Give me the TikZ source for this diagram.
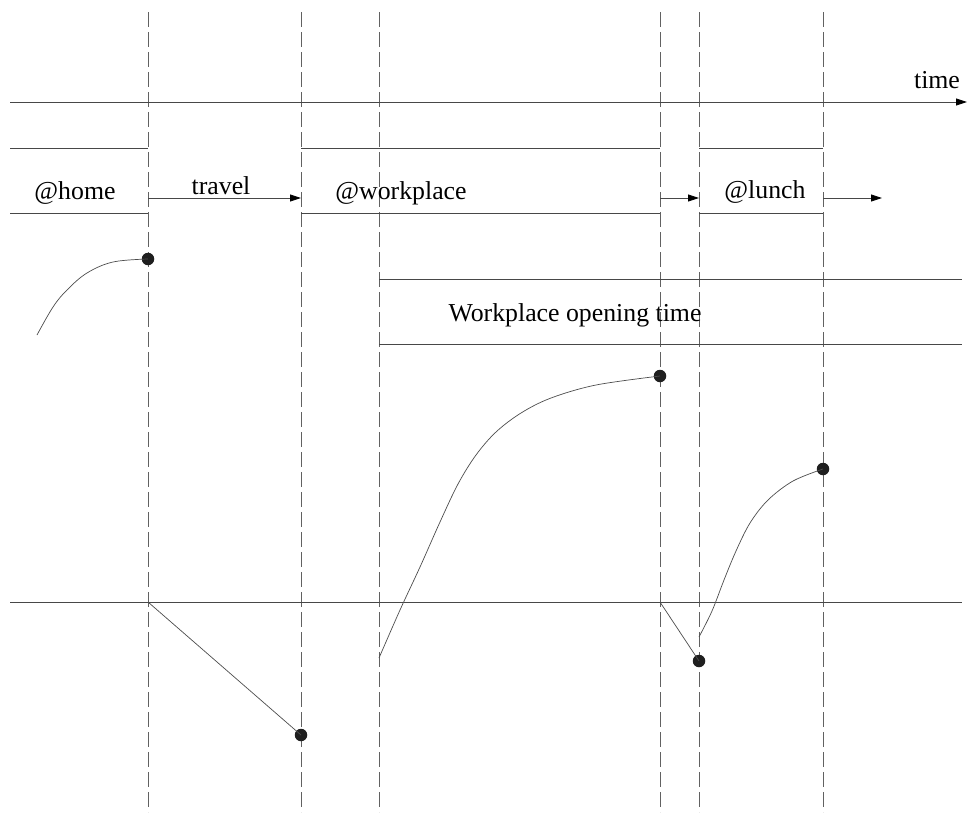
\documentclass[tikz,border=0pt]{standalone}
\usepackage{fontspec}
\setmainfont{Liberation Serif}
\usetikzlibrary{arrows.meta}
\begin{document}
\begin{tikzpicture}[x=1pt,y=-1pt,
  lbl/.style={font=\fontsize{25.8}{30}\selectfont, anchor=base, inner sep=0pt},
  guide/.style={draw=black!62, line width=0.9pt, dash pattern=on 15pt off 5pt},
  rule/.style={draw=black!72, line width=0.9pt},
  curve/.style={draw=black!70, line width=0.7pt},
  tip/.style={-{Triangle[length=11pt,width=7pt,color=black]}},
  dot/.style={circle, fill=black!88, inner sep=0pt, minimum size=12.5pt}]
\useasboundingbox (0,0) rectangle (967,814);

% vertical event guides
\foreach \gx/\gn in {148/ga,301/gb,379/gc,660/gd,699/ge,823/gf}{
  \coordinate (\gn top) at (\gx,12);
  \coordinate (\gn bot) at (\gx,812);
  \draw[guide] (\gn top) -- (\gn bot);
}

% time axis
\coordinate (t0) at (10,102);
\coordinate (t1) at (967,102);
\draw[rule,tip] (t0) -- (t1);
\node[lbl] (time) at (937,88) {time};

% activity bands
\coordinate (h1) at (10,148);  \coordinate (h2) at (148,148);
\coordinate (h3) at (10,213);  \coordinate (h4) at (148,213);
\draw[rule] (h1) -- (h2) (h3) -- (h4);
\node[lbl] (home) at (75,199) {@home};

\coordinate (w1) at (301,148); \coordinate (w2) at (660,148);
\coordinate (w3) at (301,213); \coordinate (w4) at (660,213);
\draw[rule] (w1) -- (w2) (w3) -- (w4);
\node[lbl] (work) at (401,199) {@workplace};

\coordinate (l1) at (699,148); \coordinate (l2) at (823,148);
\coordinate (l3) at (699,213); \coordinate (l4) at (823,213);
\draw[rule] (l1) -- (l2) (l3) -- (l4);
\node[lbl] (lunch) at (765,198) {@lunch};

% transitions
\coordinate (a1) at (148,198); \coordinate (a2) at (301,198);
\coordinate (a3) at (660,198); \coordinate (a4) at (699,198);
\coordinate (a5) at (823,198); \coordinate (a6) at (882,198);
\draw[rule,tip] (a1) -- (a2);
\draw[rule,tip] (a3) -- (a4);
\draw[rule,tip] (a5) -- (a6);
\node[lbl] (travel) at (221,194) {travel};

% opening hours band
\coordinate (o1) at (379,279); \coordinate (o2) at (962,279);
\coordinate (o3) at (379,344); \coordinate (o4) at (962,344);
\draw[rule] (o1) -- (o2) (o3) -- (o4);
\node[lbl] (open) at (575,321.5) {Workplace opening time};

% zero level
\coordinate (z0) at (10,602); \coordinate (z1) at (962,602);
\draw[rule] (z0) -- (z1);

% end-of-activity values
\node[dot] (p1) at (148,259) {};
\node[dot] (p2) at (301,735) {};
\node[dot] (p3) at (660,376) {};
\node[dot] (p4) at (699,661) {};
\node[dot] (p5) at (823,469) {};

\coordinate (za) at (148,602);
\coordinate (zd) at (660,602);

% value curves
\draw[curve] plot[smooth, tension=0.6] coordinates
  {(37,335) (53,307) (67,290) (87,273) (113,262) (148,259)};
\draw[curve] (za) -- (p2.center);
\draw[curve] plot[smooth, tension=0.55] coordinates
  {(379,658) (400,610) (420,567) (440,522) (458,484) (476,455) (496,432) (521,413) (551,398) (596,385) (660,376)};
\draw[curve] (zd) -- (p4.center);
\draw[curve] plot[smooth, tension=0.55] coordinates
  {(699,637) (712,611) (724,580) (736,551) (750,523) (768,500) (793,481) (823,469)};
\end{tikzpicture}
\end{document}
